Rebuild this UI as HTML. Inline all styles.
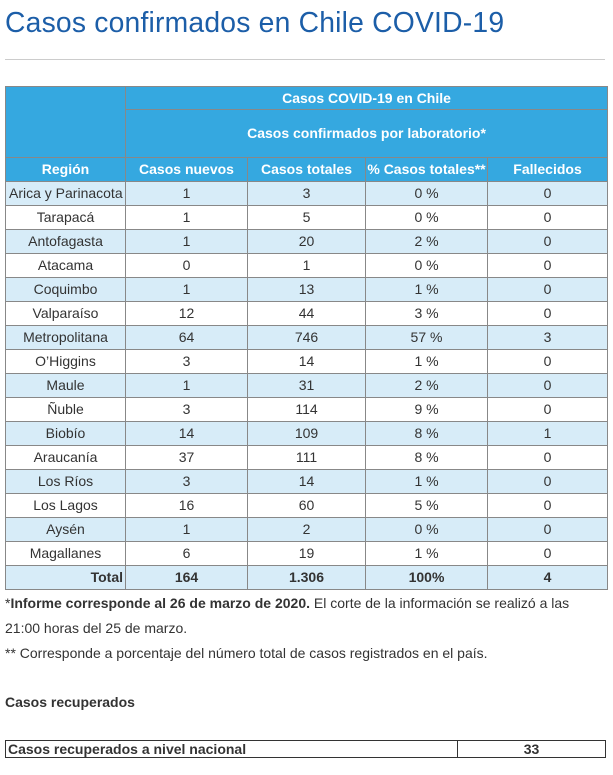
<!DOCTYPE html>
<html><head><meta charset="utf-8"><style>
body{margin:0;width:613px;height:775px;background:#fff;font-family:"Liberation Sans",Arial,sans-serif;position:relative;overflow:hidden}
h1{position:absolute;left:5px;top:6px;margin:0;font-weight:normal;font-size:28.3px;color:#1c5ea8;letter-spacing:0.2px}
.hr{position:absolute;left:5px;top:59px;width:600px;height:1px;background:#ccc}
table{border-collapse:collapse;table-layout:fixed;position:absolute;left:5px;}
#t{top:86px;width:602px;border:1px solid #333}
#t td{border:1px solid #888;font-size:14px;color:#333;text-align:center;height:23px;padding:0;line-height:23px}
#t tr.h td{background:#35a8e0;color:#fff;font-weight:bold;border-color:#888}
#t tr.a td{background:#d7ecf8}
#t td.l{text-align:left;padding-left:3px}
.p{position:absolute;left:5px;font-size:14px;color:#333}
#r{top:740px;width:601px;border:1px solid #333}
#r td{border:1px solid #333;font-size:14px;font-weight:bold;color:#333;height:16px;padding:0 2px;line-height:16px}
</style></head><body>
<h1>Casos confirmados en Chile COVID-19</h1>
<div class="hr"></div>
<table id="t">
<colgroup><col style="width:120px"><col style="width:122px"><col style="width:118px"><col style="width:122px"><col style="width:120px"></colgroup>
<tr class="h"><td rowspan="2"></td><td colspan="4" style="height:22px;line-height:22px">Casos COVID-19 en Chile</td></tr>
<tr class="h"><td colspan="4" style="height:47px">Casos confirmados por laboratorio*</td></tr>
<tr class="h"><td>Región</td><td>Casos nuevos</td><td>Casos totales</td><td>% Casos totales**</td><td>Fallecidos</td></tr>
<tr class="a"><td class="l">Arica y Parinacota</td><td>1</td><td>3</td><td>0 %</td><td>0</td></tr>
<tr><td>Tarapacá</td><td>1</td><td>5</td><td>0 %</td><td>0</td></tr>
<tr class="a"><td>Antofagasta</td><td>1</td><td>20</td><td>2 %</td><td>0</td></tr>
<tr><td>Atacama</td><td>0</td><td>1</td><td>0 %</td><td>0</td></tr>
<tr class="a"><td>Coquimbo</td><td>1</td><td>13</td><td>1 %</td><td>0</td></tr>
<tr><td>Valparaíso</td><td>12</td><td>44</td><td>3 %</td><td>0</td></tr>
<tr class="a"><td>Metropolitana</td><td>64</td><td>746</td><td>57 %</td><td>3</td></tr>
<tr><td>O’Higgins</td><td>3</td><td>14</td><td>1 %</td><td>0</td></tr>
<tr class="a"><td>Maule</td><td>1</td><td>31</td><td>2 %</td><td>0</td></tr>
<tr><td>Ñuble</td><td>3</td><td>114</td><td>9 %</td><td>0</td></tr>
<tr class="a"><td>Biobío</td><td>14</td><td>109</td><td>8 %</td><td>1</td></tr>
<tr><td>Araucanía</td><td>37</td><td>111</td><td>8 %</td><td>0</td></tr>
<tr class="a"><td>Los Ríos</td><td>3</td><td>14</td><td>1 %</td><td>0</td></tr>
<tr><td>Los Lagos</td><td>16</td><td>60</td><td>5 %</td><td>0</td></tr>
<tr class="a"><td>Aysén</td><td>1</td><td>2</td><td>0 %</td><td>0</td></tr>
<tr><td>Magallanes</td><td>6</td><td>19</td><td>1 %</td><td>0</td></tr>
<tr class="a" style="font-weight:bold"><td style="text-align:right;padding-right:2px">Total</td><td>164</td><td>1.306</td><td>100%</td><td>4</td></tr>
</table>
<div class="p" style="top:595px">*<b>Informe corresponde al 26 de marzo de 2020.</b> El corte de la información se realizó a las</div>
<div class="p" style="top:620px">21:00 horas del 25 de marzo.</div>
<div class="p" style="top:645px">** Corresponde a porcentaje del número total de casos registrados en el país.</div>
<div class="p" style="top:694px;font-weight:bold">Casos recuperados</div>
<table id="r"><colgroup><col style="width:452px"><col></colgroup>
<tr><td>Casos recuperados a nivel nacional</td><td style="text-align:center">33</td></tr></table>
</body></html>
